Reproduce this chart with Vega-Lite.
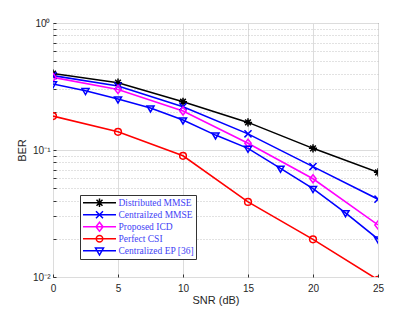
{
  "$schema": "https://vega.github.io/schema/vega-lite/v6.json",
  "width": 325,
  "height": 254,
  "autosize": "none",
  "padding": {"left": 53, "top": 23, "right": 37, "bottom": 35},
  "background": "white",
  "config": {
    "view": {"stroke": "#333333", "strokeWidth": 1},
    "font": "Liberation Sans",
    "axis": {
      "domain": false,
      "labelFont": "Liberation Sans",
      "labelFontSize": 10,
      "labelColor": "#262626",
      "titleFont": "Liberation Sans",
      "titleFontSize": 11,
      "titleFontWeight": "normal",
      "titleColor": "#262626",
      "tickColor": "#333333",
      "gridColor": "#dcdcdc",
      "gridWidth": 1
    }
  },
  "data": {
    "values": [
      {"series": "Distributed MMSE", "snr": 0, "ber": 0.40},
      {"series": "Distributed MMSE", "snr": 5, "ber": 0.339},
      {"series": "Distributed MMSE", "snr": 10, "ber": 0.24},
      {"series": "Distributed MMSE", "snr": 15, "ber": 0.165},
      {"series": "Distributed MMSE", "snr": 20, "ber": 0.103},
      {"series": "Distributed MMSE", "snr": 25, "ber": 0.0667},
      {"series": "Centrailzed MMSE", "snr": 0, "ber": 0.385},
      {"series": "Centrailzed MMSE", "snr": 5, "ber": 0.319},
      {"series": "Centrailzed MMSE", "snr": 10, "ber": 0.219},
      {"series": "Centrailzed MMSE", "snr": 15, "ber": 0.134},
      {"series": "Centrailzed MMSE", "snr": 20, "ber": 0.074},
      {"series": "Centrailzed MMSE", "snr": 25, "ber": 0.041},
      {"series": "Proposed ICD", "snr": 0, "ber": 0.373},
      {"series": "Proposed ICD", "snr": 5, "ber": 0.30},
      {"series": "Proposed ICD", "snr": 10, "ber": 0.203},
      {"series": "Proposed ICD", "snr": 15, "ber": 0.113},
      {"series": "Proposed ICD", "snr": 20, "ber": 0.0594},
      {"series": "Proposed ICD", "snr": 25, "ber": 0.0257},
      {"series": "Perfect CSI", "snr": 0, "ber": 0.185},
      {"series": "Perfect CSI", "snr": 5, "ber": 0.139},
      {"series": "Perfect CSI", "snr": 10, "ber": 0.090},
      {"series": "Perfect CSI", "snr": 15, "ber": 0.039},
      {"series": "Perfect CSI", "snr": 20, "ber": 0.0198},
      {"series": "Perfect CSI", "snr": 25, "ber": 0.0095},
      {"series": "Centralized EP [36]", "snr": 0, "ber": 0.331},
      {"series": "Centralized EP [36]", "snr": 2.5, "ber": 0.293},
      {"series": "Centralized EP [36]", "snr": 5, "ber": 0.252},
      {"series": "Centralized EP [36]", "snr": 7.5, "ber": 0.214},
      {"series": "Centralized EP [36]", "snr": 10, "ber": 0.172},
      {"series": "Centralized EP [36]", "snr": 12.5, "ber": 0.131},
      {"series": "Centralized EP [36]", "snr": 15, "ber": 0.103},
      {"series": "Centralized EP [36]", "snr": 17.5, "ber": 0.0717},
      {"series": "Centralized EP [36]", "snr": 20, "ber": 0.0496},
      {"series": "Centralized EP [36]", "snr": 22.5, "ber": 0.032},
      {"series": "Centralized EP [36]", "snr": 25, "ber": 0.0199}
    ]
  },
  "encoding": {
    "x": {
      "field": "snr",
      "type": "quantitative",
      "scale": {"domain": [0, 25], "nice": false},
      "axis": {
        "title": "SNR (dB)",
        "values": [0, 5, 10, 15, 20, 25],
        "tickSize": -3,
        "labelPadding": 9,
        "titlePadding": 1,
        "labelFlush": false
      }
    },
    "y": {
      "field": "ber",
      "type": "quantitative",
      "scale": {"type": "log", "domain": [0.01, 1], "nice": false},
      "axis": {
        "title": "BER",
        "values": [0.01, 0.02, 0.03, 0.04, 0.05, 0.06, 0.07, 0.08, 0.09, 0.1, 0.2, 0.3, 0.4, 0.5, 0.6, 0.7, 0.8, 0.9, 1],
        "labelExpr": "datum.value == 1 ? '10⁰' : datum.value == 0.1 ? '10⁻¹' : datum.value == 0.01 ? '10⁻²' : ''",
        "tickSize": -3,
        "labelPadding": 6,
        "titlePadding": 5,
        "labelFlush": false,
        "gridDash": {"condition": {"test": "datum.value == 1 || datum.value == 0.1 || datum.value == 0.01", "value": []}, "value": [1, 2]},
        "gridColor": {"condition": {"test": "datum.value == 1 || datum.value == 0.1 || datum.value == 0.01", "value": "#dcdcdc"}, "value": "#c4c4c4"}
      }
    },
    "color": {
      "field": "series",
      "type": "nominal",
      "scale": {
        "domain": ["Distributed MMSE", "Centrailzed MMSE", "Proposed ICD", "Perfect CSI", "Centralized EP [36]"],
        "range": ["#000000", "#0000ff", "#ff00ff", "#ff0000", "#0000ff"]
      },
      "legend": {
        "title": null,
        "orient": "none",
        "legendX": 27,
        "legendY": 172,
        "direction": "vertical",
        "fillColor": "white",
        "strokeColor": "#333333",
        "cornerRadius": 0,
        "padding": 2,
        "labelFont": "Liberation Serif",
        "labelFontSize": 9.5,
        "labelColor": "#3f3ff5",
        "labelOffset": 13,
        "symbolOffset": 11.5,
        "symbolSize": 100,
        "symbolStrokeWidth": 1.5,
        "clipHeight": 11.5,
        "rowPadding": 0,
        "encode": {
          "symbols": {
            "update": {
              "shape": {"signal": "datum.value === 'Distributed MMSE' ? 'M-3.3,0H3.3M-0.6,-0.6L0.6,0.6M-0.6,0.6L0.6,-0.6M0,-0.85V0.85' : datum.value === 'Centrailzed MMSE' ? 'M-3.3,0H3.3M-0.7,-0.7L0.7,0.7M-0.7,0.7L0.7,-0.7' : datum.value === 'Proposed ICD' ? 'M-3.3,0H3.3M0,-0.9L0.7,0L0,0.9L-0.7,0Z' : datum.value === 'Perfect CSI' ? 'M-3.3,0H3.3M0.65,0A0.65,0.65 0 1 1 -0.65,0A0.65,0.65 0 1 1 0.65,0' : 'M-3.3,0H3.3M-0.8,-0.55L0.8,-0.55L0,0.85Z'"},
              "fill": {"value": "transparent"},
              "strokeWidth": {"value": 1.5}
            }
          }
        }
      }
    }
  },
  "layer": [
    {
      "mark": {"type": "line", "strokeWidth": 1.6, "clip": true}
    },
    {
      "transform": [{"filter": "datum.series === 'Distributed MMSE'"}],
      "mark": {"type": "point", "filled": false, "size": 50, "strokeWidth": 1.5, "opacity": 1, "clip": true, "shape": "M-0.8,-0.8L0.8,0.8M-0.8,0.8L0.8,-0.8M0,-1.15V1.15M-1.15,0H1.15"}
    },
    {
      "transform": [{"filter": "datum.series === 'Centrailzed MMSE'"}],
      "mark": {"type": "point", "filled": false, "size": 50, "strokeWidth": 1.5, "opacity": 1, "clip": true, "shape": "M-1,-1L1,1M-1,1L1,-1"}
    },
    {
      "transform": [{"filter": "datum.series === 'Proposed ICD'"}],
      "mark": {"type": "point", "filled": false, "size": 50, "strokeWidth": 1.5, "opacity": 1, "clip": true, "shape": "M0,-1.15L0.9,0L0,1.15L-0.9,0Z"}
    },
    {
      "transform": [{"filter": "datum.series === 'Perfect CSI'"}],
      "mark": {"type": "point", "filled": false, "size": 45, "strokeWidth": 1.5, "opacity": 1, "clip": true, "shape": "circle"}
    },
    {
      "transform": [{"filter": "datum.series === 'Centralized EP [36]'"}],
      "mark": {"type": "point", "filled": false, "size": 50, "strokeWidth": 1.5, "opacity": 1, "clip": true, "shape": "M-1,-0.6L1,-0.6L0,1.1Z"}
    }
  ]
}
